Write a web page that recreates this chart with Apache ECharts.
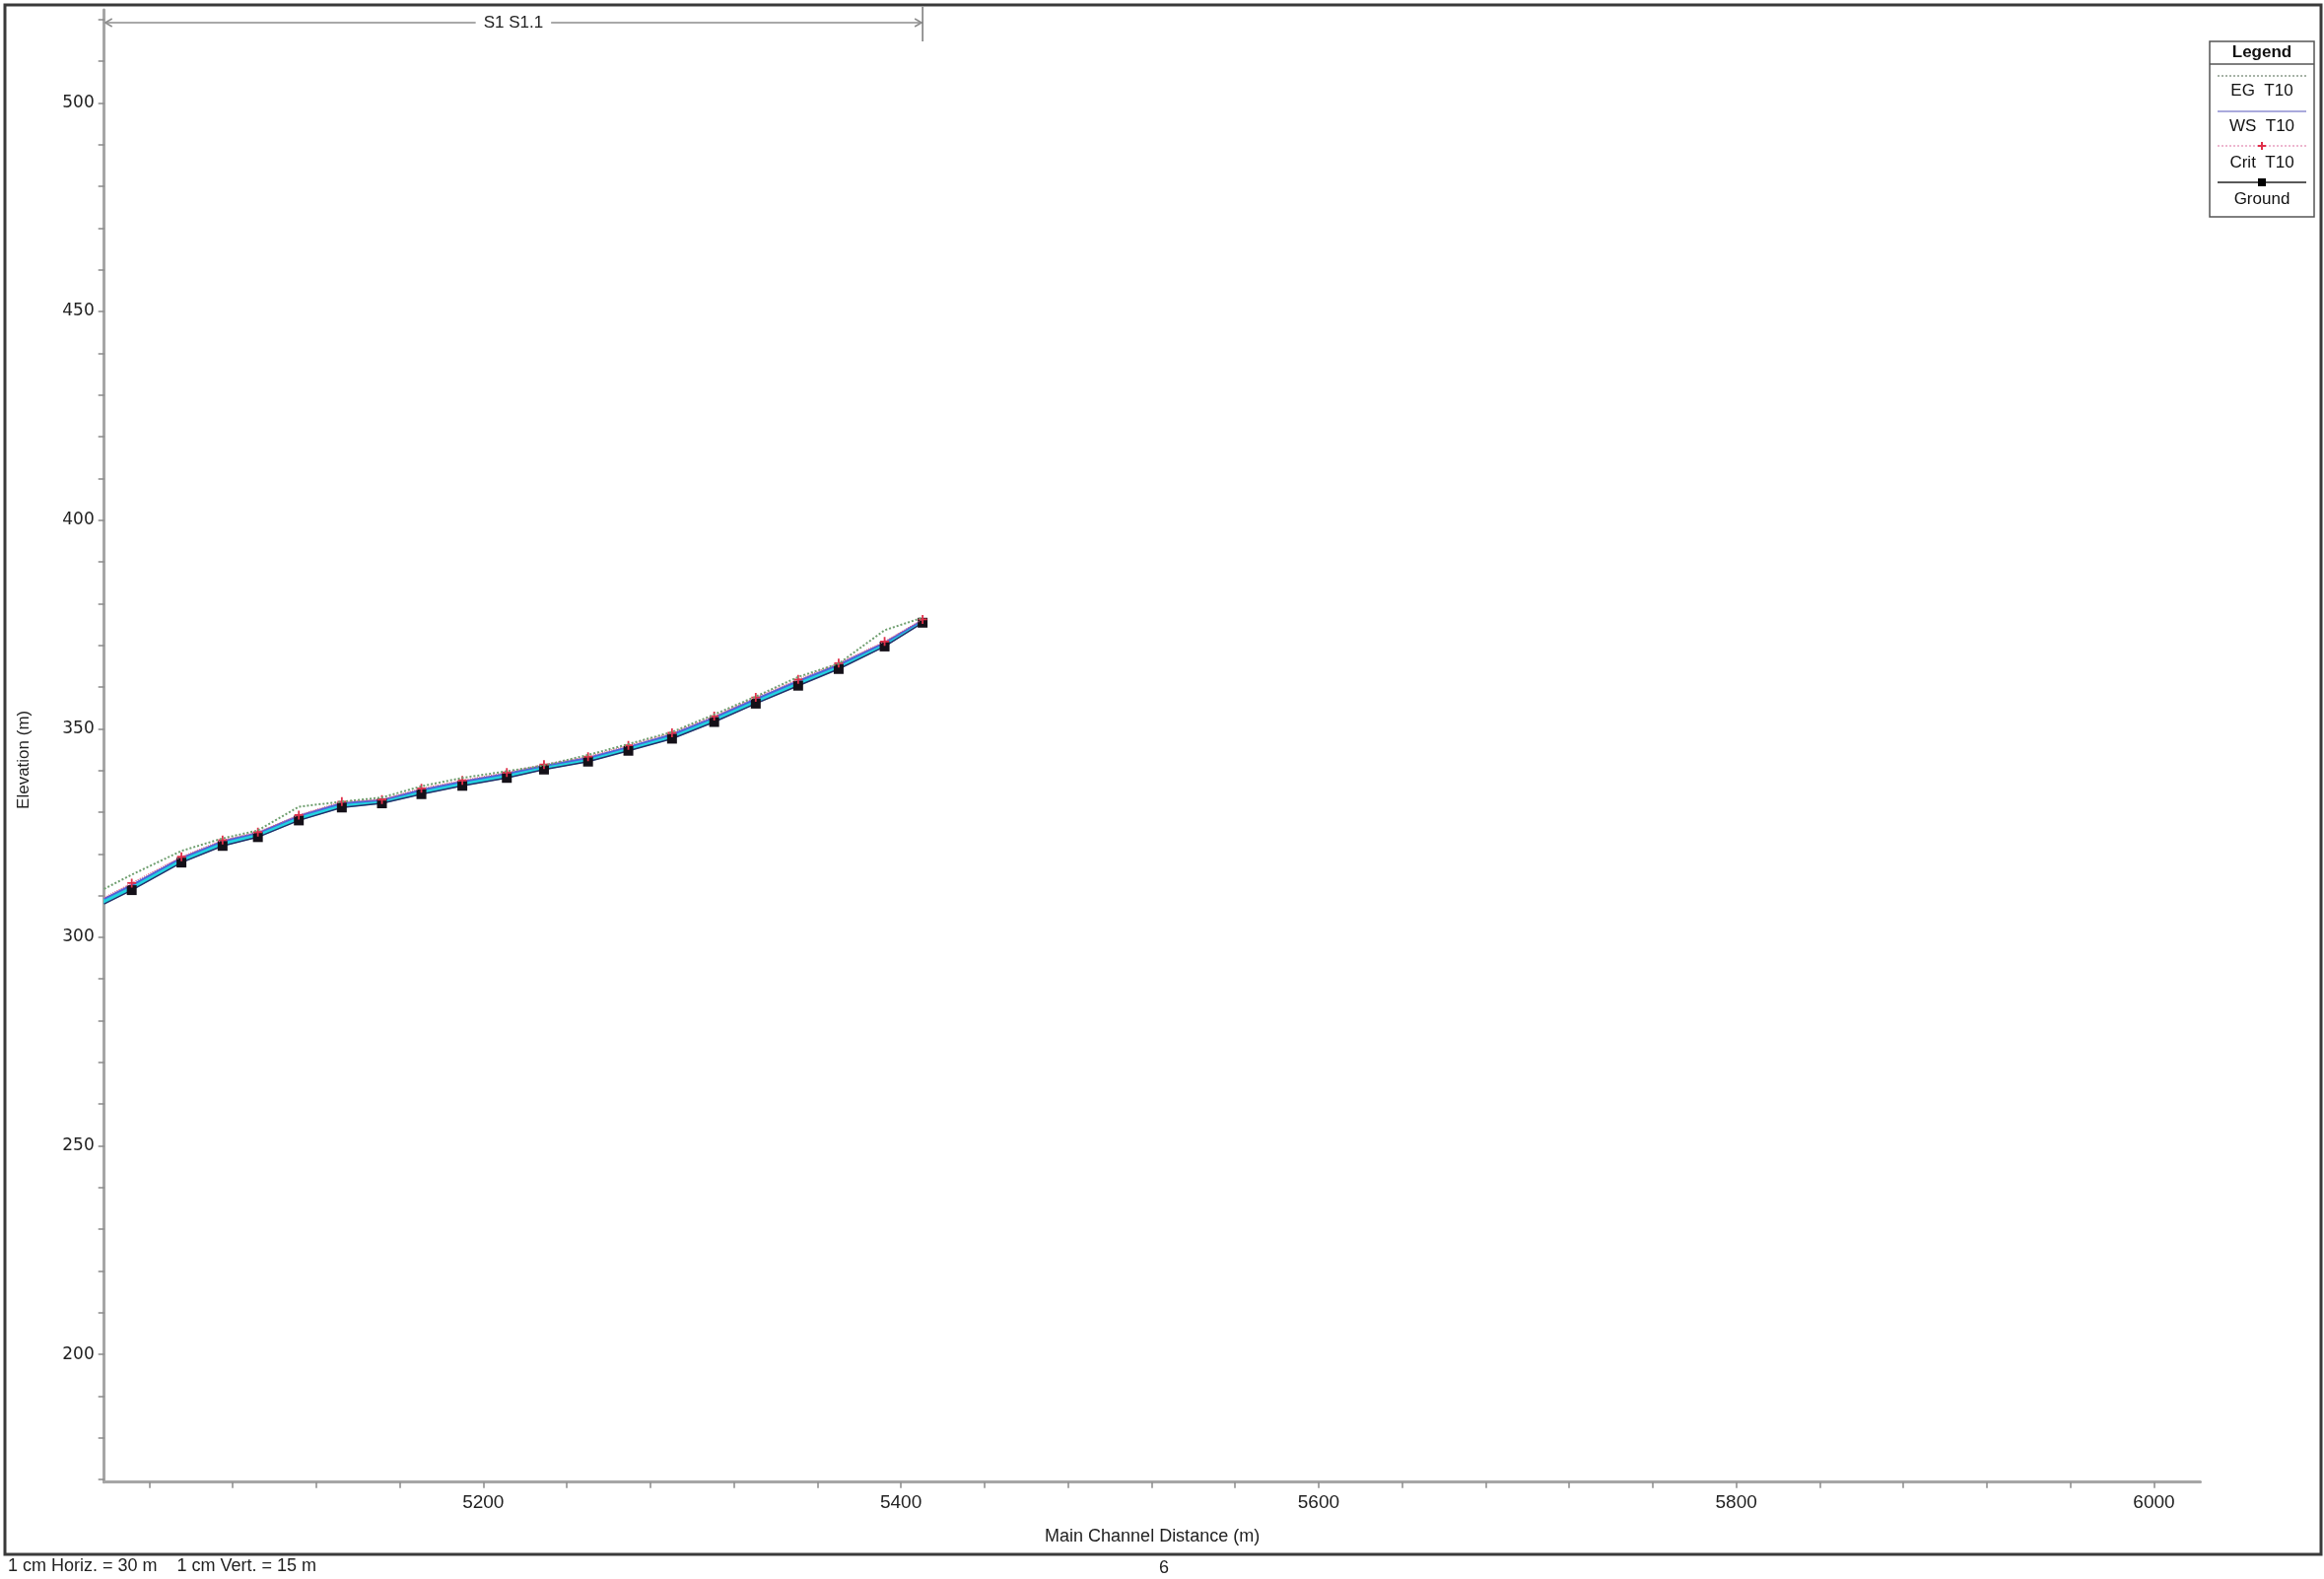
<!DOCTYPE html>
<html><head><meta charset="utf-8">
<script src="https://cdn.jsdelivr.net/npm/echarts@6/dist/echarts.min.js"></script>
<style>html,body{margin:0;padding:0;background:#fff}#c{width:2358px;height:1602px}</style>
</head><body><div id="c"></div>
<script>
// ---- data ----
const stations = [5018.5, 5031.7, 5055.5, 5075.2, 5092.1, 5111.7, 5132.3, 5151.5, 5170.4, 5190.0, 5211.3, 5229.1, 5250.2, 5269.5, 5290.4, 5310.6, 5330.5, 5350.8, 5370.2, 5392.2, 5410.4];
const ground   = [308.0, 311.3, 317.9, 321.9, 324.0, 328.0, 331.1, 332.1, 334.3, 336.3, 338.2, 340.2, 342.1, 344.7, 347.6, 351.6, 356.0, 360.3, 364.3, 369.7, 375.4];
const wsT10    = [309.2, 312.5, 319.0, 323.0, 325.0, 329.1, 332.1, 332.9, 335.3, 337.3, 339.2, 341.1, 343.0, 345.6, 348.6, 352.7, 357.1, 361.4, 365.3, 370.6, 376.0];
const critT10  = [309.5, 313.0, 319.3, 323.3, 325.2, 329.3, 332.5, 333.0, 335.7, 337.6, 339.5, 341.4, 343.3, 346.0, 349.0, 353.0, 357.5, 361.8, 365.7, 370.9, 376.2];
const egT10    = [311.6, 315.0, 320.7, 323.7, 325.6, 331.3, 332.5, 333.5, 336.2, 338.2, 339.8, 341.2, 343.7, 346.3, 349.2, 353.4, 357.7, 362.4, 365.6, 373.6, 376.6];
const xLabelValues = [5200, 5400, 5600, 5800, 6000];
const xTickValues  = [5040,5080,5120,5160,5200,5240,5280,5320,5360,5400,5440,5480,5520,5560,5600,5640,5680,5720,5760,5800,5840,5880,5920,5960,6000];
const yLabelValues = [200, 250, 300, 350, 400, 450, 500];
const yTickValues  = [170,180,190,200,210,220,230,240,250,260,270,280,290,300,310,320,330,340,350,360,370,380,390,400,410,420,430,440,450,460,470,480,490,500,510,520];
const legendNames  = ['EG  T10', 'WS  T10', 'Crit  T10', 'Ground'];
const reachLabel   = 'S1 S1.1';
const xName = 'Main Channel Distance (m)';
const yName = 'Elevation (m)';
const scaleNote = '1 cm Horiz. = 30 m    1 cm Vert. = 15 m';
const pageNote = '6';

// ---- styles ----
const C_EG = '#6f9f6f', C_WS = '#4f63d8', C_CRIT = '#e0608a', C_CRIT_MK = '#e0304a', C_GROUND = '#141018', C_FILL = '#22d3e0';
const FONT = "'Liberation Sans', Arial, sans-serif";
const plusPath = 'path://M4,0 H6 V4 H10 V6 H6 V10 H4 V6 H0 V4 H4 Z';

function pairs(arr, noFirstSymbol) {
  return stations.map((x, i) => (noFirstSymbol && i === 0) ? {value: [x, arr[i]], symbol: 'none'} : [x, arr[i]]);
}
// segments of the wetted band between ground and water surface
const bandSegs = stations.slice(0, -1).map((x, i) => [x, stations[i + 1], ground[i], ground[i + 1], wsT10[i], wsT10[i + 1]]);

const chart = echarts.init(document.getElementById('c'), null, {renderer: 'canvas'});
const axisCommon = {
  type: 'value',
  axisLine: {show: true, onZero: false, lineStyle: {color: '#a6a6a6', width: 3}},
  splitLine: {show: false},
};
const option = {
  animation: false,
  backgroundColor: '#fff',
  grid: {left: 105.7, top: 10, right: 125.5, bottom: 98.3, containLabel: false},
  xAxis: Object.assign({}, axisCommon, {
    min: 5018.5, max: 6022.2,
    axisTick: {show: true, customValues: xTickValues, length: 6, lineStyle: {color: '#8a8a8a', width: 1.5}},
    axisLabel: {customValues: xLabelValues, margin: 12, fontSize: 19, color: '#222', fontFamily: FONT, formatter: v => String(v)},
    name: xName, nameLocation: 'middle', nameGap: 46,
    nameTextStyle: {fontSize: 18, color: '#222', fontFamily: FONT}
  }),
  yAxis: Object.assign({}, axisCommon, {
    min: 169.4, max: 522.3,
    axisTick: {show: true, customValues: yTickValues, length: 6, lineStyle: {color: '#8a8a8a', width: 1.5}},
    axisLabel: {customValues: yLabelValues, margin: 10, fontSize: 17, color: '#222', fontFamily: "'DejaVu Sans', sans-serif", formatter: v => String(v)},
    name: yName, nameLocation: 'middle', nameGap: 73, nameRotate: 90,
    nameTextStyle: {fontSize: 17, color: '#222', fontFamily: FONT, padding: [0, 0, 0, -28]}
  }),
  series: [
    {name: 'band', type: 'custom', data: bandSegs, silent: true, z: 1,
     encode: {x: [0, 1], y: [2, 3, 4, 5]},
     renderItem: function (params, api) {
       const p1 = api.coord([api.value(0), api.value(2)]);
       const p2 = api.coord([api.value(1), api.value(3)]);
       const p3 = api.coord([api.value(1), api.value(5)]);
       const p4 = api.coord([api.value(0), api.value(4)]);
       return {type: 'polygon', shape: {points: [p1, p2, p3, p4]}, style: {fill: C_FILL, stroke: C_FILL, lineWidth: 0.8}};
     }},
    {name: legendNames[1], type: 'line', data: pairs(wsT10), symbol: 'none',
     lineStyle: {color: C_WS, width: 2}, z: 3},
    {name: legendNames[3], type: 'line', data: pairs(ground, true), symbol: 'rect', symbolSize: 10,
     itemStyle: {color: C_GROUND}, lineStyle: {color: '#25306a', width: 1.5}, z: 4},
    {name: legendNames[2], type: 'line', data: pairs(critT10, true), symbol: plusPath, symbolSize: 9,
     itemStyle: {color: C_CRIT_MK}, lineStyle: {color: C_CRIT, width: 1.2, type: 'dotted'}, z: 5},
    {name: legendNames[0], type: 'line', data: pairs(egT10), symbol: 'none',
     lineStyle: {color: C_EG, width: 2, type: 'dotted'}, z: 6}
  ]
};
chart.setOption(option);

// ---- annotations / legend / frame ----
const xs = chart.convertToPixel({gridIndex: 0}, [stations[0], 500])[0];
const xe = chart.convertToPixel({gridIndex: 0}, [stations[stations.length - 1], 500])[0];
const ry = 23;
const gray = '#8c8c8c';
const g = [];
g.push({type: 'rect', shape: {x: 5, y: 5, width: 2350, height: 1572}, style: {fill: null, stroke: '#3a3a3a', lineWidth: 3}, z: 100});
g.push({type: 'line', shape: {x1: xs + 1, y1: ry, x2: xe - 1, y2: ry}, style: {stroke: gray, lineWidth: 1.5}, z: 50});
g.push({type: 'polyline', shape: {points: [[xs + 8, ry - 4], [xs + 1, ry], [xs + 8, ry + 4]]}, style: {stroke: gray, lineWidth: 1.5, fill: null}, z: 50});
g.push({type: 'polyline', shape: {points: [[xe - 8, ry - 4], [xe - 1, ry], [xe - 8, ry + 4]]}, style: {stroke: gray, lineWidth: 1.5, fill: null}, z: 50});
g.push({type: 'line', shape: {x1: xe, y1: 7, x2: xe, y2: 42}, style: {stroke: '#777', lineWidth: 1.5}, z: 50});
g.push({type: 'text', x: (xs + xe) / 2, y: ry, style: {text: reachLabel, font: "17px " + FONT, fill: '#222', align: 'center', verticalAlign: 'middle', backgroundColor: '#fff', padding: [2, 8]}, z: 51});
// legend
const lx0 = 2250, lx1 = 2340, lcx = 2295;
g.push({type: 'rect', shape: {x: 2242, y: 42, width: 106, height: 178}, style: {fill: '#fff', stroke: '#555', lineWidth: 1.5}, z: 60});
g.push({type: 'line', shape: {x1: 2242, y1: 65, x2: 2348, y2: 65}, style: {stroke: '#555', lineWidth: 1.5}, z: 61});
g.push({type: 'text', x: lcx, y: 53, style: {text: 'Legend', font: "bold 17px " + FONT, fill: '#111', align: 'center', verticalAlign: 'middle'}, z: 61});
g.push({type: 'line', shape: {x1: lx0, y1: 77, x2: lx1, y2: 77}, style: {stroke: '#8a9a8a', lineWidth: 1.5, lineDash: [2, 2]}, z: 61});
g.push({type: 'text', x: lcx, y: 92, style: {text: legendNames[0], font: "17px " + FONT, fill: '#111', align: 'center', verticalAlign: 'middle'}, z: 61});
g.push({type: 'line', shape: {x1: lx0, y1: 113, x2: lx1, y2: 113}, style: {stroke: '#8c8cd0', lineWidth: 1.5}, z: 61});
g.push({type: 'text', x: lcx, y: 128, style: {text: legendNames[1], font: "17px " + FONT, fill: '#111', align: 'center', verticalAlign: 'middle'}, z: 61});
g.push({type: 'line', shape: {x1: lx0, y1: 148, x2: lx1, y2: 148}, style: {stroke: '#e8a0c0', lineWidth: 1.5, lineDash: [2, 2]}, z: 61});
g.push({type: 'polygon', shape: {points: [[lcx - 1, 144], [lcx + 1, 144], [lcx + 1, 147], [lcx + 4, 147], [lcx + 4, 149], [lcx + 1, 149], [lcx + 1, 152], [lcx - 1, 152], [lcx - 1, 149], [lcx - 4, 149], [lcx - 4, 147], [lcx - 1, 147]]}, style: {fill: C_CRIT_MK}, z: 62});
g.push({type: 'text', x: lcx, y: 165, style: {text: legendNames[2], font: "17px " + FONT, fill: '#111', align: 'center', verticalAlign: 'middle'}, z: 61});
g.push({type: 'line', shape: {x1: lx0, y1: 185, x2: lx1, y2: 185}, style: {stroke: '#222', lineWidth: 1.5}, z: 61});
g.push({type: 'rect', shape: {x: lcx - 4, y: 181, width: 8, height: 8}, style: {fill: '#000'}, z: 62});
g.push({type: 'text', x: lcx, y: 202, style: {text: legendNames[3], font: "17px " + FONT, fill: '#111', align: 'center', verticalAlign: 'middle'}, z: 61});
// footer
g.push({type: 'text', x: 8, y: 1589, style: {text: scaleNote, font: "18px " + FONT, fill: '#222', align: 'left', verticalAlign: 'middle'}, z: 61});
g.push({type: 'text', x: 1181, y: 1591, style: {text: pageNote, font: "18px " + FONT, fill: '#222', align: 'center', verticalAlign: 'middle'}, z: 61});
chart.setOption({graphic: g});
</script></body></html>
